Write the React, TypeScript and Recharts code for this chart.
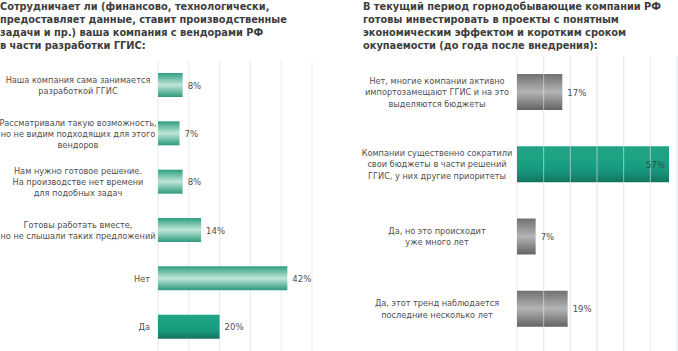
import React from "react";
import { BarChart, Bar, XAxis, YAxis, CartesianGrid, ReferenceLine, LabelList, Cell } from "recharts";

const leftTitle = [
  "Сотрудничает ли (финансово, технологически,",
  "предоставляет данные, ставит производственные",
  "задачи и пр.) ваша компания с вендорами РФ",
  "в части разработки ГГИС:",
];
const leftCategories = [
  "Наша компания сама занимается\nразработкой ГГИС",
  "Рассматривали такую возможность,\nно не видим подходящих для этого\nвендоров",
  "Нам нужно готовое решение.\nНа производстве нет времени\nдля подобных задач",
  "Готовы работать вместе,\nно не слышали таких предложений",
  "Нет",
  "Да",
];
const leftValues = [8, 7, 8, 14, 42, 20];
const leftTicks = [0, 10, 20, 30, 40, 50];

const rightTitle = [
  "В текущий период горнодобывающие компании РФ",
  "готовы инвестировать в проекты с понятным",
  "экономическим эффектом и коротким сроком",
  "окупаемости (до года после внедрения):",
];
const rightCategories = [
  "Нет, многие компании активно\nимпортозамещают ГГИС и на это\nвыделяются бюджеты",
  "Компании существенно сократили\nсвои бюджеты в части решений\nГГИС, у них другие приоритеты",
  "Да, но это происходит\nуже много лет",
  "Да, этот тренд наблюдается\nпоследние несколько лет",
];
const rightValues = [17, 57, 7, 19];
const rightTicks = [0, 10, 20, 30, 40, 50, 60];

const FONT = "'DejaVu Sans Condensed', 'DejaVu Sans', sans-serif";
const LABEL_SIZE = 9.1;

const leftFills = ["url(#gLight)", "url(#gLight)", "url(#gLight)", "url(#gLight)", "url(#gLight)", "url(#gDark)"];
const rightFills = ["url(#gGrey)", "url(#gDark)", "url(#gGrey)", "url(#gGrey)"];

// multi-line labels sit centred in a fixed wrap box, one-liners hug the axis
const makeTick = (lineHeight: number, halfBox: number) => (props: any) => {
  const { x, y, payload } = props;
  const lines = String(payload.value).split("\n");
  const single = lines.length === 1;
  const cx = single ? x : x - halfBox;
  const y0 = y - ((lines.length - 1) * lineHeight) / 2;
  return (
    <text x={cx} y={y0} textAnchor={single ? "end" : "middle"} fill="#505050" fontSize={LABEL_SIZE} fontFamily={FONT}>
      {lines.map((l, i) => (
        <tspan key={i} x={cx} y={y0 + i * lineHeight} dominantBaseline="central">
          {l}
        </tspan>
      ))}
    </text>
  );
};

const makeValueLabel = (insideFrom: number) => (props: any) => {
  const { x, y, width, height, value } = props;
  const inside = value >= insideFrom;
  return (
    <text
      x={inside ? x + width - 4 : x + width + 5}
      y={y + height / 2}
      textAnchor={inside ? "end" : "start"}
      dominantBaseline="central"
      fill={inside ? "#2f4f48" : "#505050"}
      fontSize={9.5}
      fontFamily={FONT}
    >
      {value}%
    </text>
  );
};

const titleStyle: React.CSSProperties = {
  position: "absolute",
  top: 0,
  fontFamily: FONT,
  fontWeight: "bold",
  fontSize: 10.9,
  lineHeight: "13px",
  color: "#3d3d3d",
  whiteSpace: "nowrap",
};

export default function App() {
  const leftData = leftCategories.map((c, i) => ({ name: c, value: leftValues[i] }));
  const rightData = rightCategories.map((c, i) => ({ name: c, value: rightValues[i] }));

  return (
    <div style={{ position: "absolute", left: 0, top: 0, width: 678, height: 351, background: "#fff", overflow: "hidden" }}>
      <svg width={0} height={0} style={{ position: "absolute" }}>
        <defs>
          <linearGradient id="gLight" x1="0" y1="0" x2="0" y2="1">
            <stop offset="0" stopColor="#2f9e82" />
            <stop offset="0.5" stopColor="#bfe6d7" />
            <stop offset="1" stopColor="#2c9a7e" />
          </linearGradient>
          <linearGradient id="gDark" x1="0" y1="0" x2="0" y2="1">
            <stop offset="0" stopColor="#22a387" />
            <stop offset="0.35" stopColor="#1ba283" />
            <stop offset="0.7" stopColor="#18967b" />
            <stop offset="1" stopColor="#13745f" />
          </linearGradient>
          <linearGradient id="gGrey" x1="0" y1="0" x2="0" y2="1">
            <stop offset="0" stopColor="#6f7171" />
            <stop offset="0.5" stopColor="#b3b5b5" />
            <stop offset="1" stopColor="#626464" />
          </linearGradient>
        </defs>
      </svg>

      <div style={{ ...titleStyle, left: 0 }}>
        {leftTitle.map((t, i) => (
          <div key={i}>{t}</div>
        ))}
      </div>
      <div style={{ ...titleStyle, left: 363 }}>
        {rightTitle.map((t, i) => (
          <div key={i}>{t}</div>
        ))}
      </div>

      <div style={{ position: "absolute", left: 0, top: 0 }}>
        <BarChart width={340} height={351} data={leftData} layout="vertical" margin={{ top: 61, right: 28, bottom: 0, left: 0 }}>
          <CartesianGrid horizontal={false} stroke="#e6e9ef" />
          <XAxis type="number" domain={[0, 50]} ticks={leftTicks} hide />
          <YAxis
            type="category"
            dataKey="name"
            width={158}
            axisLine={false}
            tickLine={false}
            tickSize={0}
            tickMargin={8}
            interval={0}
            tick={makeTick(11, 72)}
          />
          <Bar dataKey="value" barSize={24} isAnimationActive={false}>
            {leftData.map((_, i) => (
              <Cell key={i} fill={leftFills[i]} />
            ))}
            <LabelList dataKey="value" content={makeValueLabel(1000)} />
          </Bar>
        </BarChart>
      </div>

      <div style={{ position: "absolute", left: 340, top: 0 }}>
        <BarChart width={338} height={351} data={rightData} layout="vertical" margin={{ top: 56, right: 1, bottom: 0, left: 0 }}>
          <CartesianGrid horizontal={false} stroke="#e6e9ef" />
          <XAxis type="number" domain={[0, 60]} ticks={rightTicks} hide />
          <YAxis
            type="category"
            dataKey="name"
            width={177}
            axisLine={false}
            tickLine={false}
            tickSize={0}
            tickMargin={11}
            interval={0}
            padding={{ top: 0, bottom: 6 }}
            tick={makeTick(11.5, 69)}
          />
          <Bar dataKey="value" barSize={36} isAnimationActive={false}>
            {rightData.map((_, i) => (
              <Cell key={i} fill={rightFills[i]} />
            ))}
            <LabelList dataKey="value" content={makeValueLabel(50)} />
          </Bar>
          {rightTicks.slice(1, -1).map((t) => (
            <ReferenceLine key={t} x={t} stroke="#e4e8ec" strokeOpacity={0.6} />
          ))}
        </BarChart>
      </div>
    </div>
  );
}
